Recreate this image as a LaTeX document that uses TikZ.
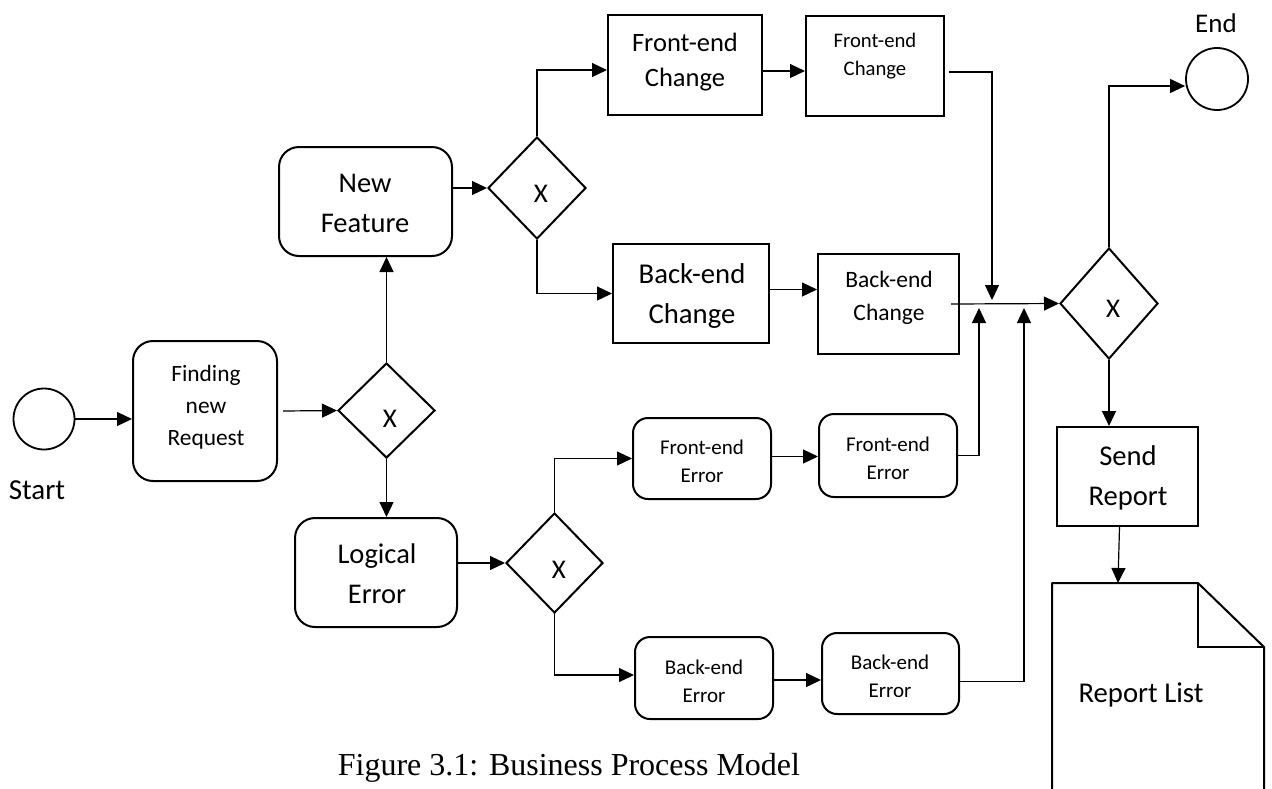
\documentclass[tikz,border=0pt]{standalone}
\usepackage{fontspec}
\setmainfont{Carlito}
\newfontfamily\capfont{Liberation Serif}
\usetikzlibrary{arrows.meta,shapes.geometric}
\begin{document}
\begin{tikzpicture}[x=1pt,y=-1pt,
  box/.style={draw, line width=2pt, inner sep=0pt},
  rbox/.style={box, rounded corners=#1},
  gate/.style={draw, diamond, line width=2pt, inner sep=0pt},
  ev/.style={draw, circle, line width=1.8pt, inner sep=0pt},
  conn/.style={line width=1.2pt},
  arr/.style={conn, -{Triangle[length=15pt,width=14pt]}},
  lbl/.style n args={3}{font=\fontsize{#1pt}{#2pt}\selectfont, text height=#3pt, text depth=0pt, align=center, inner sep=0pt},
  xlbl/.style={font=\fontsize{27pt}{32pt}\selectfont, inner sep=0pt}
]
\useasboundingbox (0,0) rectangle (1272,788);
\clip (0,0) rectangle (1272,788);

% events
\node[ev, minimum size=61pt] (start) at (44,419) {};
\node[lbl={29}{34}{18.3}] (startt) at (37,490.5) {Start};
\node[ev, minimum size=62pt] (end) at (1217,79) {};
\node[lbl={27}{32}{17}] (endt) at (1216,24) {End};

% tasks
\node[rbox=20pt, minimum width=144pt, minimum height=140pt] (find) at (205,411) {};
\node[lbl={23.4}{32}{78.8}] (findt) at (206,406.5) {Finding\\new\\Request};

\node[rbox=20pt, minimum width=173pt, minimum height=109pt] (nf) at (365.5,201.5) {};
\node[lbl={28.5}{40}{58}] (nft) at (365,203.5) {New\\Feature};

\node[rbox=20pt, minimum width=162pt, minimum height=109pt] (le) at (376,572.5) {};
\node[lbl={28.5}{40}{58}] (let) at (377,574) {Logical\\Error};

\node[box, minimum width=154pt, minimum height=100pt] (fec1) at (685,65) {};
\node[lbl={26.5}{35}{51.7}] (fec1t) at (685,61) {Front-end\\Change};

\node[box, minimum width=138pt, minimum height=100pt] (fec2) at (875,66) {};
\node[lbl={20.7}{28}{41}] (fec2t) at (875,54.5) {Front-end\\Change};

\node[box, minimum width=156pt, minimum height=99pt] (bec1) at (691,293.5) {};
\node[lbl={28.7}{40}{58.1}] (bec1t) at (692,294) {Back-end\\Change};

\node[box, minimum width=141pt, minimum height=100pt] (bec2) at (888.5,304) {};
\node[lbl={23.5}{33}{47.8}] (bec2t) at (889,296.5) {Back-end\\Change};

\node[rbox=15pt, minimum width=138pt, minimum height=81pt] (fee1) at (702,458.5) {};
\node[lbl={21}{28}{41.2}] (fee1t) at (702,461.5) {Front-end\\Error};

\node[rbox=15pt, minimum width=138pt, minimum height=83pt] (fee2) at (888,455.5) {};
\node[lbl={21}{28}{41.2}] (fee2t) at (888,458.5) {Front-end\\Error};

\node[rbox=15pt, minimum width=138pt, minimum height=82pt] (bee1) at (704,678) {};
\node[lbl={21}{28}{41.2}] (bee1t) at (704,681.5) {Back-end\\Error};

\node[rbox=15pt, minimum width=137pt, minimum height=81pt] (bee2) at (890.5,673.5) {};
\node[lbl={21}{28}{41.2}] (bee2t) at (890,676.5) {Back-end\\Error};

\node[box, minimum width=141pt, minimum height=99pt] (sr) at (1127.5,476.5) {};
\node[lbl={28.6}{40}{58}] (srt) at (1128,476.5) {Send\\Report};

% gateways
\node[gate, minimum width=97pt, minimum height=95pt] (gw1) at (386.5,410.5) {};
\node[xlbl] (gw1t) at (390,419) {X};
\node[gate, minimum width=98pt, minimum height=102pt] (gw2) at (537,188) {};
\node[xlbl] (gw2t) at (541,193.5) {X};
\node[gate, minimum width=98pt, minimum height=111pt] (gw3) at (1109,303.5) {};
\node[xlbl] (gw3t) at (1113,308.5) {X};
\node[gate, minimum width=97pt, minimum height=100pt] (gw4) at (554.5,563) {};
\node[xlbl] (gw4t) at (559,570) {X};

% report list document
\draw[line width=2pt, line join=round] (1052,795) -- (1052,583) -- (1198,583) -- (1264,647) -- (1264,795);
\draw[line width=2pt] (1198,583) -- (1198,647) -- (1264,647);
\node[lbl={28.7}{34}{18.1}] (rlt) at (1141,693.5) {Report List};
\coordinate (rl) at (1118,583);

% merge points
\coordinate (m1) at (992,300);
\coordinate (m2) at (979,308);
\coordinate (m3) at (1024,308);

% connectors
\draw[arr] (start.east) -- (start.east -| find.west);
\draw[arr] ([xshift=5pt]find.east) -- (gw1.west);
\draw[arr] (gw1.north) -- (gw1.north |- nf.south);
\draw[arr] (gw1.south) -- (gw1.south |- le.north);
\draw[arr] (nf.east |- gw2.west) -- (gw2.west);
\draw[arr] (gw2.north) |- ([yshift=-5pt]fec1.west);
\draw[arr] ([yshift=-6pt]fec1.east) -- ([yshift=-6pt]fec1.east -| fec2.west);
\draw[arr] ([xshift=4pt,yshift=-6pt]fec2.east) -| (m1);
\draw[arr] (gw2.south) |- (bec1.west);
\draw[arr] ([yshift=4pt]bec1.east) -- ([yshift=4pt]bec1.east -| bec2.west);
\draw[arr] ([xshift=-9pt]bec2.east) -- (gw3.west);
\draw[arr] (fee2.east) -| (m2);
\draw[arr] ([yshift=-8pt]bee2.east) -| (m3);
\draw[arr] (gw3.north) |- ([yshift=-7pt]end.west);
\draw[arr] (gw3.south) -- (gw3.south |- sr.north);
\draw[arr] ([xshift=-8pt]sr.south) -- (rl);
\draw[arr] (le.east |- gw4.west) -- (gw4.west);
\draw[arr] (gw4.north) |- (fee1.west);
\draw[arr] (gw4.south) |- ([yshift=3pt]bee1.west);
\draw[arr] ([yshift=2pt]fee1.east) -- ([yshift=2pt]fee1.east -| fee2.west);
\draw[arr] ([yshift=-2pt]bee1.east) -- ([yshift=-2pt]bee1.east -| bee2.west);

% caption
\node[font=\capfont\fontsize{32pt}{38pt}\selectfont, inner sep=0pt, anchor=base] (cap) at (569,775) {Figure 3.1: Business Process Model};
\end{tikzpicture}
\end{document}
